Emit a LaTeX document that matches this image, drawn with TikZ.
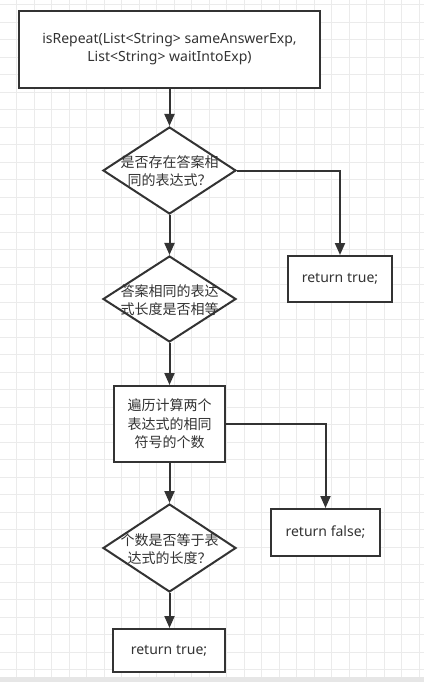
\documentclass[tikz,border=0pt]{standalone}
\usepackage{fontspec}
\setmainfont{Noto Sans}
\newfontfamily\cjk{Noto Sans CJK SC}
\usetikzlibrary{shapes.geometric,arrows.meta}
\definecolor{ink}{HTML}{333333}
\definecolor{gridc}{HTML}{EBEBEB}
\definecolor{bandc}{HTML}{E6E6E6}
\begin{document}
\begin{tikzpicture}[x=1pt,y=-1pt,
  font=\fontsize{14}{18}\selectfont,
  box/.style={draw=ink,line width=2pt,fill=white,inner sep=0pt,align=center,text=ink},
  dia/.style={draw=ink,line width=2pt,fill=white,diamond,inner sep=0pt},
  txt/.style={align=center,text=ink,inner sep=0pt,font=\fontsize{14}{18}\selectfont\cjk},
  arr/.style={draw=ink,line width=2pt,-{Triangle[length=12pt,width=10pt]}}]
\useasboundingbox (0,0) rectangle (424,682);
\fill[white] (0,0) rectangle (424,682);
\foreach \i in {0,...,23} \draw[gridc,line width=1pt] ({16.7+17.5*\i},0) -- ({16.7+17.5*\i},677);
\foreach \j in {0,...,38} \draw[gridc,line width=1pt] (0,{4.7+17.5*\j}) -- (424,{4.7+17.5*\j});
\fill[bandc] (0,677) rectangle (424,682);

\node[box,minimum width=301pt,minimum height=77pt] (start) at (169.5,49.5)
  {isRepeat(List<String> sameAnswerExp,\\List<String> waitIntoExp)};

\node[dia,minimum width=133pt,minimum height=87pt] (d1) at (169.5,170.5) {};
\node[txt] (d1t) at (169.5,171) {是否存在答案相\\同的表达式？};

\node[box,minimum width=104pt,minimum height=46pt] (rt1) at (340,279) {return true;};

\node[dia,minimum width=133pt,minimum height=86pt] (d2) at (169.5,299) {};
\node[txt] (d2t) at (169.5,300) {答案相同的表达\\式长度是否相等};

\node[box,minimum width=111pt,minimum height=76pt,font=\fontsize{14}{18.5}\selectfont\cjk] (calc) at (169.5,424)
  {遍历计算两个\\表达式的相同\\符号的个数};

\node[box,minimum width=109pt,minimum height=47pt] (rf) at (325.5,532.5) {return false;};

\node[dia,minimum width=133pt,minimum height=88pt] (d3) at (169.5,548) {};
\node[txt] (d3t) at (169.5,549) {个数是否等于表\\达式的长度？};

\node[box,minimum width=112pt,minimum height=43pt] (rt2) at (169,650.5) {return true;};

\draw[arr] (start) -- (d1);
\draw[arr] (d1.east) -| (rt1.north);
\draw[arr] (d1) -- (d2);
\draw[arr] (d2) -- (calc);
\draw[arr] (calc.east) -| (rf.north);
\draw[arr] (calc) -- (d3);
\draw[arr] (d3.south) -- (d3.south |- rt2.north);
\end{tikzpicture}
\end{document}
